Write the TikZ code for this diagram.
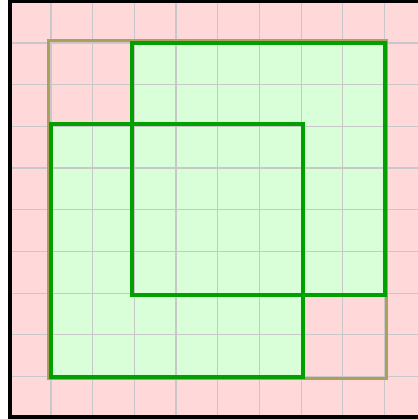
\documentclass[tikz,border=0pt]{standalone}
\usepackage{xcolor}
\definecolor{bgpink}{HTML}{FFD9D9}
\definecolor{fillgreen}{HTML}{D9FFD9}
\definecolor{edgegreen}{HTML}{00A000}
\definecolor{hulltan}{HTML}{ACA05C}
\definecolor{gridgray}{HTML}{C8C8C8}

\begin{document}
\begin{tikzpicture}[x=41.7pt, y=-41.7pt,
  gridline/.style={draw=gridgray, line width=1.2pt},
  hullbox/.style={draw=hulltan, line width=3pt},
  squarebox/.style={draw=edgegreen, line width=4pt}
]
  \useasboundingbox (-0.223,-0.031) rectangle (9.801,10.017);
  % background
  \fill[bgpink] (0.02,0.005) rectangle (10.5,9.97);
  % union of the two squares
  \fill[fillgreen] (0.99,2.95) rectangle (7.05,9.02);
  \fill[fillgreen] (2.95,0.99) rectangle (9.02,7.05);
  % grid
  \begin{scope}
    \clip (0.02,0.005) rectangle (10.5,9.97);
    \draw[gridline, xstep=41.7pt, ystep=41.7pt] (0,0) grid (11,10);
  \end{scope}
  % bounding box of the union
  \draw[hullbox] (0.95,0.95) rectangle (9.05,9.05);
  % the two squares
  \draw[squarebox] (0.99,2.95) rectangle (7.05,9.02);
  \draw[squarebox] (2.95,0.99) rectangle (9.02,7.05);
  % frame
  \draw[black, line width=3.5pt] (10.5,0.005) -- (0.02,0.005) -- (0.02,9.97) -- (10.5,9.97);
\end{tikzpicture}
\end{document}
